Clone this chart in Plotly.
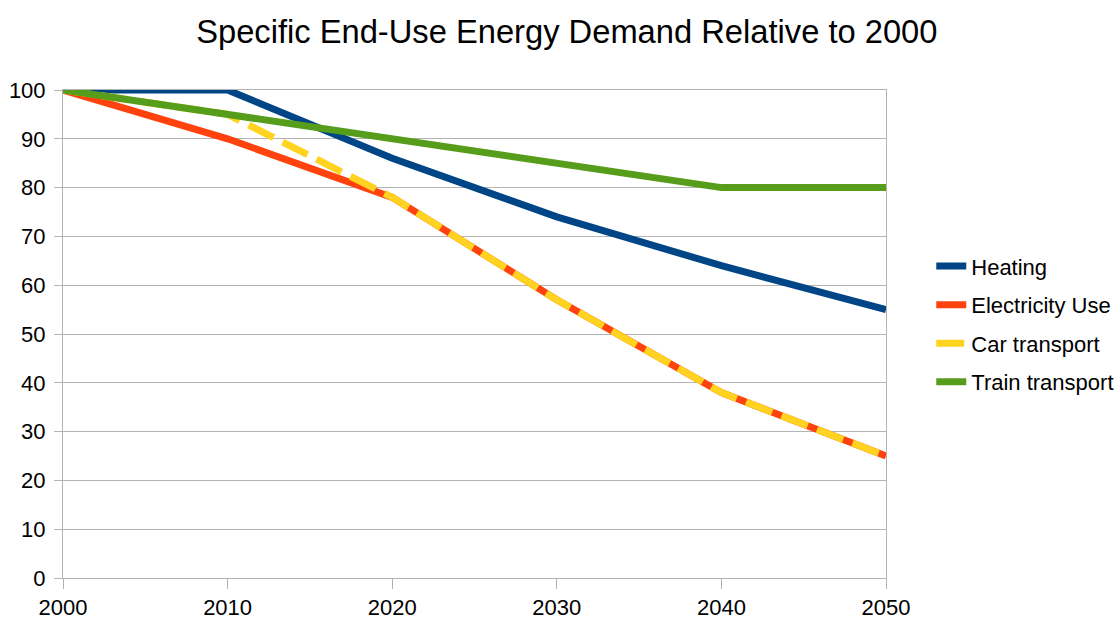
import plotly.graph_objects as go

# Years and relative demand (index, 2000 = 100)
years = [2000, 2010, 2020, 2030, 2040, 2050]
heating = [100, 100, 86, 74, 64, 55]
electricity = [100, 90, 78, 57, 38, 25]
car_transport = [100, 95, 78, 57, 38, 25]
train_transport = [100, 95, 90, 85, 80, 80]

series = [
    ("Heating", heating, "#004586", "solid"),
    ("Electricity Use", electricity, "#ff420e", "solid"),
    ("Car transport", car_transport, "#ffd320", "28px,10px"),
    ("Train transport", train_transport, "#579d1c", "solid"),
]

FONT = "Liberation Sans, Arial, sans-serif"
GRID = "#b3b3b3"

fig = go.Figure()
for i, (name, vals, color, dash) in enumerate(series):
    fig.add_trace(go.Scatter(
        x=years, y=vals, name=name, mode="lines",
        line=dict(color=color, width=7, dash=dash),
        legendgroup=str(i),
    ))

fig.update_layout(
    width=1118, height=621,
    paper_bgcolor="white", plot_bgcolor="white",
    margin=dict(l=63, r=232, t=90, b=43, autoexpand=False),
    title=dict(
        text="Specific End-Use Energy Demand Relative to 2000",
        x=0.507, xanchor="center", xref="container",
        y=1 - 32 / 621, yanchor="middle", yref="container",
        font=dict(family=FONT, size=32.7, color="black"),
    ),
    font=dict(family=FONT, size=22, color="black"),
    legend=dict(
        x=1.055, xanchor="left", y=0.52, yanchor="middle",
        font=dict(family=FONT, size=22, color="black"),
        tracegroupgap=7,
        bgcolor="rgba(0,0,0,0)",
    ),
    showlegend=True,
)

fig.update_xaxes(
    range=[2000, 2050], tickvals=years, ticktext=[str(y) for y in years],
    showgrid=False, zeroline=False, automargin=False,
    showline=True, linecolor=GRID, linewidth=1, mirror=True,
    ticks="outside", ticklen=10, tickcolor=GRID,
    tickfont=dict(family=FONT, size=22, color="black"),
)
fig.update_yaxes(
    range=[0, 100], tickvals=list(range(0, 101, 10)),
    showgrid=True, gridcolor=GRID, gridwidth=1, zeroline=False, automargin=False,
    showline=True, linecolor=GRID, linewidth=1, mirror=True,
    ticks="outside", ticklen=8, tickcolor=GRID,
    ticklabelstandoff=4,
    tickfont=dict(family=FONT, size=22, color="black"),
)

fig.write_html("out.html")
